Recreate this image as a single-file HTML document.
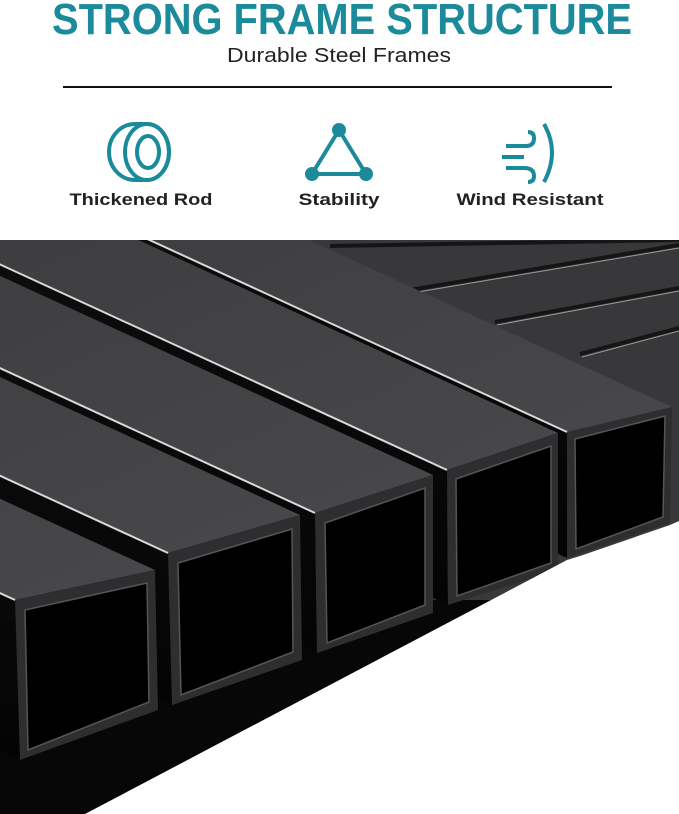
<!DOCTYPE html>
<html><head><meta charset="utf-8"><style>html,body{margin:0;padding:0;background:#fff}svg{display:block}</style></head>
<body>
<svg width="679" height="814" viewBox="0 0 679 814" xmlns="http://www.w3.org/2000/svg">
<defs>
<linearGradient id="top" x1="0" y1="0" x2="1" y2="1"><stop offset="0" stop-color="#2a2a2c"/><stop offset="0.6" stop-color="#3f3f42"/><stop offset="1" stop-color="#48484b"/></linearGradient>
<linearGradient id="side" x1="0" y1="0" x2="0" y2="1"><stop offset="0" stop-color="#141414"/><stop offset="1" stop-color="#040404"/></linearGradient>
</defs>
<rect width="679" height="814" fill="#fff"/>
<text x="342" y="34" text-anchor="middle" font-family="Liberation Sans, sans-serif" font-weight="bold" font-size="44" fill="#1b8b9b" textLength="580" lengthAdjust="spacingAndGlyphs">STRONG FRAME STRUCTURE</text>
<text x="339" y="62" text-anchor="middle" font-family="Liberation Sans, sans-serif" font-size="20" fill="#222" textLength="224" lengthAdjust="spacingAndGlyphs">Durable Steel Frames</text>
<rect x="63" y="86" width="549" height="2" fill="#111"/>
<g fill="none" stroke="#1b8b9b" stroke-width="4">
<path d="M135 124 H147 A22 28 0 0 1 147 180 H135 A26 28 0 0 1 135 124 Z"/>
<ellipse cx="147" cy="152" rx="22" ry="28"/>
<ellipse cx="148" cy="152" rx="11" ry="16"/>
<path d="M339 130 L312 174 H366 Z"/>
<path d="M502 157 H524 M506 146 H526 Q534 146 534 138 Q534 132 528 132 M506 168 H524 Q534 168 534 176 Q534 182 528 182"/>
<path d="M544 124 Q560 152 544 182"/>
</g>
<g fill="#1b8b9b"><circle cx="339" cy="130" r="7"/><circle cx="312" cy="174" r="7"/><circle cx="366" cy="174" r="7"/></g>
<g font-family="Liberation Sans, sans-serif" font-weight="bold" font-size="17" fill="#222">
<text x="141" y="205" text-anchor="middle" textLength="143" lengthAdjust="spacingAndGlyphs">Thickened Rod</text>
<text x="339" y="205" text-anchor="middle" textLength="81" lengthAdjust="spacingAndGlyphs">Stability</text>
<text x="530" y="205" text-anchor="middle" textLength="147" lengthAdjust="spacingAndGlyphs">Wind Resistant</text>
</g>
<svg x="0" y="240" width="679" height="574" viewBox="0 240 679 574">
<rect x="0" y="240" width="679" height="574" fill="#38383b"/>
<g stroke="#151515" stroke-width="4"><line x1="330" y1="246" x2="679" y2="240"/><line x1="410" y1="290" x2="679" y2="245"/><line x1="495" y1="322" x2="679" y2="288"/><line x1="580" y1="354" x2="679" y2="328"/></g>
<g stroke="#9a9a9a" stroke-width="1"><line x1="412" y1="293" x2="679" y2="248"/><line x1="497" y1="325" x2="679" y2="291"/><line x1="582" y1="357" x2="679" y2="331"/></g>
<rect x="0" y="600" width="679" height="214" fill="#070707"/>
<g>
<polygon points="567,432 672,407 -400,-86 -505,-61" fill="url(#top)"/>
<polygon points="567,432 567,558 -505,65 -505,-61" fill="url(#side)"/>
<line x1="567" y1="432" x2="-505" y2="-61" stroke="#d8d8d8" stroke-width="2"/>
<polygon points="567,432 672,407 670,523 567,558" fill="#2e2e30"/>
<polygon points="575,439 665,416 663,517 576,549" fill="#000" stroke="#555" stroke-width="1.5"/>

<polygon points="447,470 558,433 -514,-60 -625,-23" fill="url(#top)"/>
<polygon points="447,470 448,605 -624,112 -625,-23" fill="url(#side)"/>
<line x1="447" y1="470" x2="-625" y2="-23" stroke="#d8d8d8" stroke-width="2"/>
<polygon points="447,470 558,433 558,570 448,605" fill="#2e2e30"/>
<polygon points="456,479 551,446 551,563 457,596" fill="#000" stroke="#555" stroke-width="1.5"/>

<polygon points="315,513 433,475 -639,-18 -757,20" fill="url(#top)"/>
<polygon points="315,513 317,653 -755,160 -757,20" fill="url(#side)"/>
<line x1="315" y1="513" x2="-757" y2="20" stroke="#d8d8d8" stroke-width="2"/>
<polygon points="315,513 433,475 433,613 317,653" fill="#2e2e30"/>
<polygon points="325,523 425,488 425,605 327,643" fill="#000" stroke="#555" stroke-width="1.5"/>

<polygon points="168,553 300,515 -772,22 -904,60" fill="url(#top)"/>
<polygon points="168,553 172,705 -900,212 -904,60" fill="url(#side)"/>
<line x1="168" y1="553" x2="-904" y2="60" stroke="#d8d8d8" stroke-width="2"/>
<polygon points="168,553 300,515 302,660 172,705" fill="#2e2e30"/>
<polygon points="178,563 292,529 293,652 181,695" fill="#000" stroke="#555" stroke-width="1.5"/>

<polygon points="15,600 155,570 -917,77 -1057,107" fill="url(#top)"/>
<polygon points="15,600 20,760 -1052,267 -1057,107" fill="url(#side)"/>
<line x1="15" y1="600" x2="-1057" y2="107" stroke="#d8d8d8" stroke-width="2"/>
<polygon points="15,600 155,570 158,710 20,760" fill="#2e2e30"/>
<polygon points="25,610 147,583 149,702 28,750" fill="#000" stroke="#555" stroke-width="1.5"/>
</g>
<polygon points="85,814 567,560 580,556 670,525 679,521 679,814" fill="#fff"/>
</svg>
</svg>
</body></html>
